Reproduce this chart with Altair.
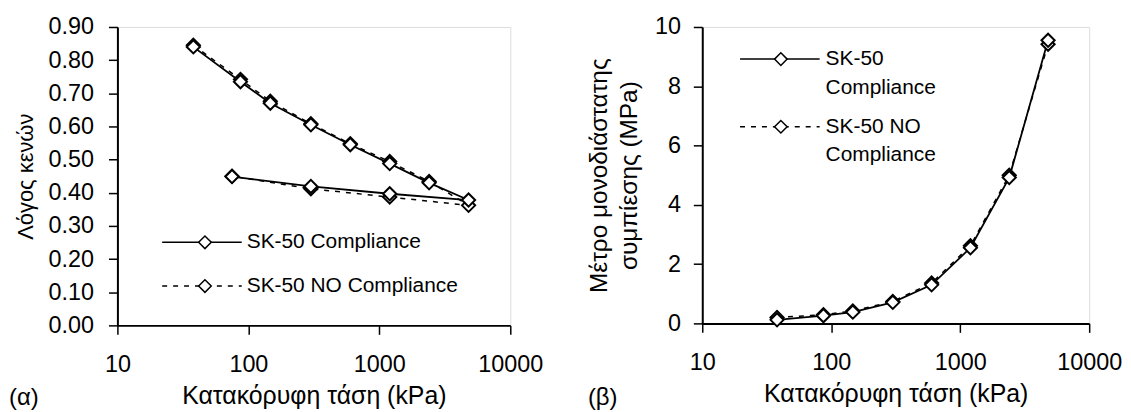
import altair as alt
import pandas as pd

# ---------------- data ----------------
series_names = ["SK-50 Compliance", "SK-50 NO Compliance"]

stress_load = [38, 87, 147, 300, 600, 1200, 2400, 4800]
stress_unload = [4800, 1200, 300, 75]

void_c_load = [0.840, 0.735, 0.670, 0.605, 0.545, 0.488, 0.430, 0.378]
void_nc_load = [0.845, 0.742, 0.676, 0.608, 0.548, 0.494, 0.434, 0.362]
void_c_unload = [0.378, 0.397, 0.419, 0.449]
void_nc_unload = [0.362, 0.387, 0.412, 0.450]

mod_c = [0.12, 0.26, 0.38, 0.71, 1.30, 2.55, 4.92, 9.55]
mod_nc = [0.20, 0.29, 0.42, 0.74, 1.36, 2.62, 5.00, 9.42]

x_ticks = [10, 100, 1000, 10000]
void_ticks = [0.0, 0.1, 0.2, 0.3, 0.4, 0.5, 0.6, 0.7, 0.8, 0.9]
mod_ticks = [0, 2, 4, 6, 8, 10]

x_title = "Κατακόρυφη τάση (kPa)"
void_title = "Λόγος κενών"
mod_title = ["Μέτρο μονοδιάστατης", "συμπίεσης (MPa)"]
panel_tags = ["(α)", "(β)"]
legend_lines_right = [["SK-50", "Compliance"], ["SK-50 NO", "Compliance"]]

# ---------------- tables ----------------
rows = []
for s, vals_l, vals_u in [(series_names[0], void_c_load, void_c_unload),
                          (series_names[1], void_nc_load, void_nc_unload)]:
    i = 0
    for x, v in zip(stress_load, vals_l):
        rows.append({"series": s, "stress": x, "value": v, "idx": i}); i += 1
    for x, v in zip(stress_unload[1:], vals_u[1:]):
        rows.append({"series": s, "stress": x, "value": v, "idx": i}); i += 1
void_df = pd.DataFrame(rows)

rows = []
for s, vals in [(series_names[0], mod_c), (series_names[1], mod_nc)]:
    for i, (x, v) in enumerate(zip(stress_load, vals)):
        rows.append({"series": s, "stress": x, "value": v, "idx": i})
mod_df = pd.DataFrame(rows)

FONT = "Liberation Sans"
LABEL_FS = 23.5
XTITLE_FS = 25
LEG_FS = 21
TAG_FS = 24
DASH = [5, 6]


def one(text):
    return pd.DataFrame({"t": [text]})


def axis_common(**kw):
    base = dict(domainColor="black", domainWidth=2, tickColor="black", tickSize=9,
                tickWidth=1.5, labelFont=FONT, labelFontSize=LABEL_FS, labelColor="black",
                titleFont=FONT, titleFontWeight="normal",
                titleColor="black", grid=False)
    base.update(kw)
    return alt.Axis(**base)


def legend_entry(x0, x1, xd, y, dashed):
    d = one("")
    rule = alt.Chart(d).mark_rule(color="black", strokeWidth=1.5,
                                  **({"strokeDash": DASH} if dashed else {})).encode(
        x=alt.value(x0), x2=alt.value(x1), y=alt.value(y))
    pt = alt.Chart(d).mark_point(shape="diamond", size=160, filled=True, fill="white",
                                 stroke="black", strokeWidth=1.5, opacity=1).encode(
        x=alt.value(xd), y=alt.value(y))
    return [rule, pt]


def text_at(text, x, y, fs):
    return alt.Chart(one(text)).mark_text(align="left", baseline="middle", font=FONT,
                                          fontSize=fs, color="black").encode(
        x=alt.value(x), y=alt.value(y), text="t:N")


def panel(df, ydomain, yticks, yfmt, ytitle, ytitle_fs, w, h, ylabel_pad, ytitle_pad, extra):
    x = alt.X("stress:Q", scale=alt.Scale(type="log", domain=[10, 10000], nice=False),
              axis=axis_common(values=x_ticks, format="d", title=x_title,
                               titleFontSize=XTITLE_FS,
                               labelPadding=18, titlePadding=8, labelFlush=False))
    y = alt.Y("value:Q", scale=alt.Scale(domain=ydomain, nice=False, zero=False),
              axis=axis_common(values=yticks, format=yfmt, title=ytitle,
                               titleFontSize=ytitle_fs,
                               labelPadding=ylabel_pad, titlePadding=ytitle_pad,
                               titleLineHeight=30))
    base = alt.Chart(df)
    nc = base.transform_filter(alt.datum.series == series_names[1])
    c = base.transform_filter(alt.datum.series == series_names[0])
    layers = [
        nc.mark_line(color="black", strokeWidth=1.5, strokeDash=DASH).encode(x=x, y=y, order="idx:Q"),
        c.mark_line(color="black", strokeWidth=1.8).encode(x=x, y=y, order="idx:Q"),
        nc.mark_point(shape="diamond", size=175, filled=True, fill="white", stroke="black",
                      strokeWidth=2, opacity=1).encode(x=x, y=y),
        c.mark_point(shape="diamond", size=175, filled=True, fill="white", stroke="black",
                     strokeWidth=2, opacity=1).encode(x=x, y=y),
    ] + extra
    return alt.layer(*layers).properties(width=w, height=h)


W1, H1 = 395, 300
W2, H2 = 389, 298

left_extra = (legend_entry(45, 125, 88, 216.5, False) + legend_entry(45, 125, 88, 260.5, True)
              + [text_at(series_names[0], 130, 216.5, LEG_FS),
                 text_at(series_names[1], 130, 260.5, LEG_FS),
                 text_at(panel_tags[0], -109, 373, TAG_FS)])
right_extra = (legend_entry(38, 118, 79, 32.3, False) + legend_entry(38, 118, 79, 100.3, True)
               + [text_at(legend_lines_right[0][0], 124, 32.3, LEG_FS),
                  text_at(legend_lines_right[0][1], 124, 61.3, LEG_FS),
                  text_at(legend_lines_right[1][0], 124, 100.3, LEG_FS),
                  text_at(legend_lines_right[1][1], 124, 128.3, LEG_FS),
                  text_at(panel_tags[1], -115, 373, TAG_FS)])

left = panel(void_df, [0, 0.9], void_ticks, ".2f", void_title, 22, W1, H1, 15, 11, left_extra)
right = panel(mod_df, [0, 10], mod_ticks, "d", mod_title, 24.5, W2, H2, 13, 13, right_extra)

chart = alt.hconcat(left, right, spacing=42).properties(
    padding={"left": 0, "top": 5, "right": 0, "bottom": 0}
).configure_view(stroke="black", strokeWidth=2).configure(background="white")

chart.save("out.html", embed_options={"renderer": "svg", "actions": False})
